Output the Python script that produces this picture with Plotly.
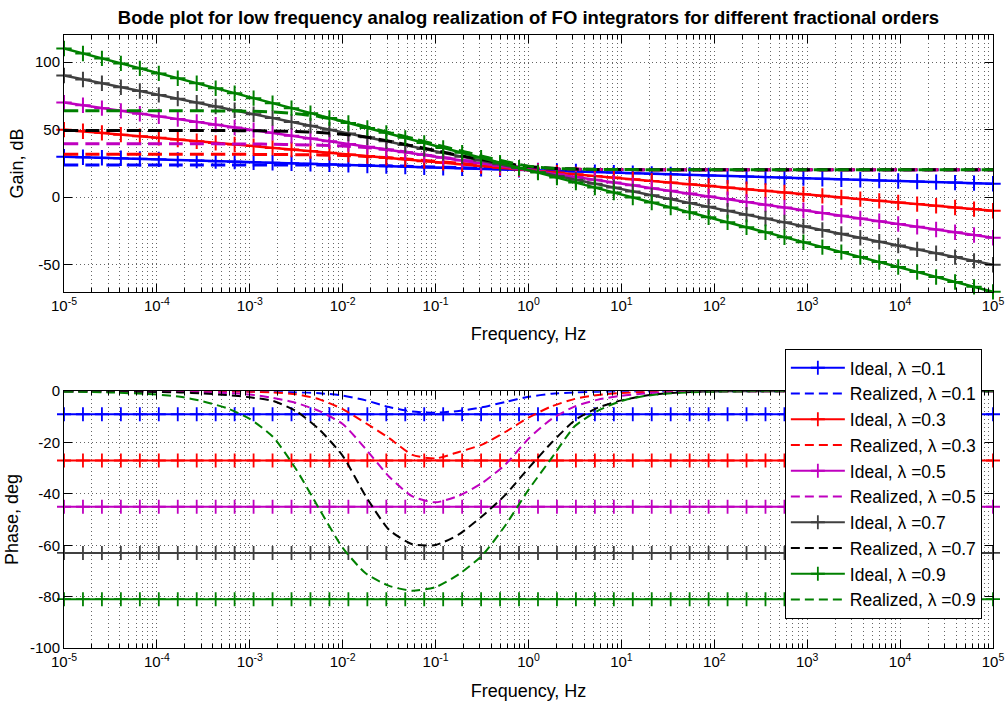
import numpy as np
import plotly.graph_objects as go

# ---------------- data ----------------
LAMBDAS = ["0.1", "0.3", "0.5", "0.7", "0.9"]
IDEAL_COLORS = ["#0000FF", "#FF0000", "#BF00BF", "#404040", "#008000"]
REAL_COLORS = ["#0000FF", "#FF0000", "#BF00BF", "#000000", "#008000"]

# ideal responses sampled on 50 log-spaced frequencies (1e-5 .. 1e5 Hz)
FREQ_IDEAL = np.logspace(-5, 5, 50)

IDEAL_GAIN_01 = [30.0, 29.6, 29.2, 28.8, 28.4, 28.0, 27.6, 27.1, 26.7, 26.3,
                 25.9, 25.5, 25.1, 24.7, 24.3, 23.9, 23.5, 23.1, 22.7, 22.2,
                 21.8, 21.4, 21.0, 20.6, 20.2, 19.8, 19.4, 19.0, 18.6, 18.2,
                 17.8, 17.3, 16.9, 16.5, 16.1, 15.7, 15.3, 14.9, 14.5, 14.1,
                 13.7, 13.3, 12.9, 12.4, 12.0, 11.6, 11.2, 10.8, 10.4, 10.0]
IDEAL_GAIN_03 = [50.0, 48.8, 47.6, 46.3, 45.1, 43.9, 42.7, 41.4, 40.2, 39.0,
                 37.8, 36.5, 35.3, 34.1, 32.9, 31.6, 30.4, 29.2, 28.0, 26.7,
                 25.5, 24.3, 23.1, 21.8, 20.6, 19.4, 18.2, 16.9, 15.7, 14.5,
                 13.3, 12.0, 10.8, 9.6, 8.4, 7.1, 5.9, 4.7, 3.5, 2.2,
                 1.0, -0.2, -1.4, -2.7, -3.9, -5.1, -6.3, -7.6, -8.8, -10.0]
IDEAL_GAIN_05 = [70.0, 68.0, 65.9, 63.9, 61.8, 59.8, 57.8, 55.7, 53.7, 51.6,
                 49.6, 47.6, 45.5, 43.5, 41.4, 39.4, 37.3, 35.3, 33.3, 31.2,
                 29.2, 27.1, 25.1, 23.1, 21.0, 19.0, 16.9, 14.9, 12.9, 10.8,
                 8.8, 6.7, 4.7, 2.7, 0.6, -1.4, -3.5, -5.5, -7.6, -9.6,
                 -11.6, -13.7, -15.7, -17.8, -19.8, -21.8, -23.9, -25.9, -28.0, -30.0]
IDEAL_GAIN_07 = [90.0, 87.1, 84.3, 81.4, 78.6, 75.7, 72.9, 70.0, 67.1, 64.3,
                 61.4, 58.6, 55.7, 52.9, 50.0, 47.1, 44.3, 41.4, 38.6, 35.7,
                 32.9, 30.0, 27.1, 24.3, 21.4, 18.6, 15.7, 12.9, 10.0, 7.1,
                 4.3, 1.4, -1.4, -4.3, -7.1, -10.0, -12.9, -15.7, -18.6, -21.4,
                 -24.3, -27.1, -30.0, -32.9, -35.7, -38.6, -41.4, -44.3, -47.1, -50.0]
IDEAL_GAIN_09 = [110.0, 106.3, 102.7, 99.0, 95.3, 91.6, 88.0, 84.3, 80.6, 76.9,
                 73.3, 69.6, 65.9, 62.2, 58.6, 54.9, 51.2, 47.6, 43.9, 40.2,
                 36.5, 32.9, 29.2, 25.5, 21.8, 18.2, 14.5, 10.8, 7.1, 3.5,
                 -0.2, -3.9, -7.6, -11.2, -14.9, -18.6, -22.2, -25.9, -29.6, -33.3,
                 -36.9, -40.6, -44.3, -48.0, -51.6, -55.3, -59.0, -62.7, -66.3, -70.0]
IDEAL_GAINS = [IDEAL_GAIN_01, IDEAL_GAIN_03, IDEAL_GAIN_05, IDEAL_GAIN_07, IDEAL_GAIN_09]

# ideal phase is constant for each order (deg)
IDEAL_PHASE = [-9.0, -27.0, -45.0, -63.0, -81.0]

# realized responses, read on log10(frequency) points
LOGF_REAL = [-5, -4.5, -4, -3.75, -3.5, -3.25, -3, -2.75, -2.5, -2.25,
             -2, -1.75, -1.5, -1.25, -1, -0.75, -0.5, -0.25, 0, 0.25,
             0.5, 0.75, 1, 1.25, 1.5, 1.75, 2, 2.5, 3, 4, 5]

REAL_GAIN_01 = [23.8, 23.8, 23.8, 23.8, 23.8, 23.8, 23.8, 23.8, 23.78, 23.75,
                23.65, 23.5, 23.2, 22.8, 22.3, 21.9, 21.5, 21.1, 20.8, 20.6,
                20.5, 20.45, 20.4, 20.4, 20.4, 20.4, 20.4, 20.4, 20.4, 20.4, 20.4]
REAL_GAIN_03 = [31.7, 31.7, 31.7, 31.7, 31.7, 31.7, 31.7, 31.6, 31.5, 31.3,
                30.9, 30.2, 29.2, 27.9, 26.5, 25.1, 23.8, 22.6, 21.7, 21.0,
                20.7, 20.5, 20.45, 20.4, 20.4, 20.4, 20.4, 20.4, 20.4, 20.4, 20.4]
REAL_GAIN_05 = [39.5, 39.5, 39.5, 39.5, 39.5, 39.45, 39.4, 39.2, 38.9, 38.5,
                37.9, 36.8, 35.1, 32.8, 30.2, 27.7, 25.4, 23.5, 22.1, 21.2,
                20.7, 20.5, 20.45, 20.4, 20.4, 20.4, 20.4, 20.4, 20.4, 20.4, 20.4]
REAL_GAIN_07 = [49.4, 49.4, 49.4, 49.4, 49.4, 49.3, 49.2, 49.0, 48.6, 47.9,
                46.6, 44.5, 41.5, 38.0, 34.5, 31.0, 27.8, 25.0, 22.8, 21.4,
                20.8, 20.55, 20.45, 20.4, 20.4, 20.4, 20.4, 20.4, 20.4, 20.4, 20.4]
REAL_GAIN_09 = [64.0, 64.0, 64.0, 64.0, 63.9, 63.8, 63.6, 63.0, 61.8, 59.6,
                56.3, 52.2, 47.8, 43.4, 39.0, 34.6, 30.4, 26.4, 23.0, 21.4,
                20.8, 20.55, 20.45, 20.4, 20.4, 20.4, 20.4, 20.4, 20.4, 20.4, 20.4]
REAL_GAINS = [REAL_GAIN_01, REAL_GAIN_03, REAL_GAIN_05, REAL_GAIN_07, REAL_GAIN_09]

REAL_PHASE_01 = [0, 0, 0, 0, 0, -0.05, -0.1, -0.2, -0.4, -0.8,
                 -1.7, -3.6, -6.2, -7.9, -8.4, -7.7, -6.3, -4.2, -2.2, -1.0,
                 -0.45, -0.2, -0.1, -0.05, 0, 0, 0, 0, 0, 0, 0]
REAL_PHASE_03 = [0, 0, 0, 0, -0.05, -0.1, -0.2, -0.5, -1.2, -3.2,
                 -7.0, -12.5, -18.3, -24.8, -26.2, -23.7, -20.8, -15.9, -10.3, -5.9,
                 -3.0, -1.5, -0.7, -0.3, -0.15, -0.05, 0, 0, 0, 0, 0]
REAL_PHASE_05 = [0, 0, -0.1, -0.2, -0.4, -0.7, -1.3, -2.6, -4.6, -7.8,
                 -12.8, -22.6, -33.3, -41.0, -43.3, -40.7, -35.8, -28.6, -18.5, -10.8,
                 -5.9, -3.3, -1.8, -0.9, -0.4, -0.2, -0.1, 0, 0, 0, 0]
REAL_PHASE_07 = [0, -0.1, -0.3, -0.5, -0.9, -1.5, -2.4, -3.8, -7.8, -15.0,
                 -25.2, -41.0, -54.0, -59.6, -59.9, -55.8, -48.7, -40.4, -30.0, -20.0,
                 -11.3, -6.4, -3.6, -1.8, -0.8, -0.3, -0.1, 0, 0, 0, 0]
REAL_PHASE_09 = [-0.2, -0.5, -1.3, -2.2, -4.0, -6.6, -10.8, -17.8, -30.5, -46.0,
                 -61.0, -71.0, -75.8, -77.7, -76.3, -71.3, -64.0, -52.3, -38.4, -26.0,
                 -13.6, -7.6, -3.8, -1.9, -0.9, -0.4, -0.2, -0.05, 0, 0, 0]
REAL_PHASES = [REAL_PHASE_01, REAL_PHASE_03, REAL_PHASE_05, REAL_PHASE_07, REAL_PHASE_09]

X_TICK_VALS = [1e-5, 1e-4, 1e-3, 1e-2, 1e-1, 1e0, 1e1, 1e2, 1e3, 1e4, 1e5]
X_TICK_TEXT = ["10<sup>-5</sup>", "10<sup>-4</sup>", "10<sup>-3</sup>", "10<sup>-2</sup>",
               "10<sup>-1</sup>", "10<sup>0</sup>", "10<sup>1</sup>", "10<sup>2</sup>",
               "10<sup>3</sup>", "10<sup>4</sup>", "10<sup>5</sup>"]
GAIN_TICKS = [-50, 0, 50, 100]
GAIN_TICK_TEXT = ["-50", "0", "50", "100"]
PHASE_TICKS = [-100, -80, -60, -40, -20, 0]
PHASE_TICK_TEXT = ["-100", "-80", "-60", "-40", "-20", "0"]

TITLE = "Bode plot for low frequency analog realization of FO integrators for different fractional orders"

# ---------------- figure ----------------
FONT = "Liberation Sans, Arial, Helvetica, sans-serif"
GRID = "rgba(0,0,0,0.6)"
GRIDDASH = "1px,3px"

freq_real = [10.0 ** v for v in LOGF_REAL]
minor_vals = [k * 10.0 ** e for e in range(-5, 5) for k in range(2, 10)]

fig = go.Figure()

for i, lam in enumerate(LAMBDAS):
    ideal_name = "Ideal, \u03bb =" + lam
    real_name = "Realized, \u03bb =" + lam
    # gain (top)
    fig.add_trace(go.Scatter(
        x=FREQ_IDEAL, y=IDEAL_GAINS[i], mode="lines+markers", name=ideal_name,
        legendgroup="ideal" + lam, showlegend=False, xaxis="x", yaxis="y",
        line=dict(color=IDEAL_COLORS[i], width=2.5),
        marker=dict(symbol="cross-thin", size=11, line=dict(color=IDEAL_COLORS[i], width=2)),
        cliponaxis=False))
    fig.add_trace(go.Scatter(
        x=freq_real, y=REAL_GAINS[i], mode="lines", name=real_name,
        legendgroup="real" + lam, showlegend=False, xaxis="x", yaxis="y",
        line=dict(color=REAL_COLORS[i], width=3, dash="14px,7px", shape="spline", smoothing=0.6)))

for i, lam in enumerate(LAMBDAS):
    ideal_name = "Ideal, \u03bb =" + lam
    real_name = "Realized, \u03bb =" + lam
    fig.add_trace(go.Scatter(
        x=FREQ_IDEAL, y=[IDEAL_PHASE[i]] * len(FREQ_IDEAL), mode="lines+markers",
        name=ideal_name, legendgroup="ideal" + lam, showlegend=True,
        xaxis="x2", yaxis="y2",
        line=dict(color=IDEAL_COLORS[i], width=2),
        marker=dict(symbol="cross-thin", size=10, line=dict(color=IDEAL_COLORS[i], width=1.8)),
        cliponaxis=False))
    fig.add_trace(go.Scatter(
        x=freq_real, y=REAL_PHASES[i], mode="lines", name=real_name,
        legendgroup="real" + lam, showlegend=True, xaxis="x2", yaxis="y2",
        line=dict(color=REAL_COLORS[i], width=2, dash="9px,5px", shape="spline", smoothing=0.6)))


def xaxis_cfg(anchor, standoff):
    return dict(
        type="log", range=[-5, 5], anchor=anchor, automargin=False,
        tickmode="array", tickvals=X_TICK_VALS, ticktext=X_TICK_TEXT,
        ticks="inside", ticklen=8, tickcolor="black", tickwidth=1,
        showline=True, linecolor="black", linewidth=1, mirror="allticks",
        showgrid=True, gridcolor=GRID, griddash=GRIDDASH, gridwidth=1,
        zeroline=False,
        minor=dict(tickmode="array", tickvals=minor_vals, ticks="inside", ticklen=4,
                   tickcolor="black", showgrid=True, gridcolor=GRID,
                   griddash=GRIDDASH, gridwidth=1),
        tickfont=dict(family=FONT, size=15, color="black"),
        title=dict(text="Frequency, Hz", font=dict(family=FONT, size=18, color="black"),
                   standoff=standoff),
    )


def yaxis_cfg(anchor, domain, rng, ticks, ticktext, title):
    return dict(
        domain=domain, anchor=anchor, range=rng, automargin=False,
        tickmode="array", tickvals=ticks, ticktext=ticktext,
        ticks="inside", ticklen=8, tickcolor="black",
        showline=True, linecolor="black", linewidth=1, mirror="allticks",
        showgrid=True, gridcolor=GRID, griddash=GRIDDASH, gridwidth=1,
        zeroline=False,
        tickfont=dict(family=FONT, size=15, color="black"),
        title=dict(text=title, font=dict(family=FONT, size=18, color="black"), standoff=6),
    )


fig.update_layout(
    width=1005, height=705,
    margin=dict(l=64, r=12, t=35, b=57),
    paper_bgcolor="white", plot_bgcolor="white",
    font=dict(family=FONT, color="black"),
    title=dict(text="<b>" + TITLE + "</b>", x=0.5, xref="paper", xanchor="center",
               y=1 - 18 / 705, yref="container", yanchor="middle",
               font=dict(family=FONT, size=18.5, color="black")),
    xaxis=xaxis_cfg("y", 14),
    xaxis2=xaxis_cfg("y2", 15),
    yaxis=yaxis_cfg("x", [0.581, 1.0], [-70, 120], GAIN_TICKS, GAIN_TICK_TEXT, "Gain, dB"),
    yaxis2=yaxis_cfg("x2", [0.0, 0.419], [-100, 0], PHASE_TICKS, PHASE_TICK_TEXT, "Phase, deg"),
    legend=dict(x=0.988, xanchor="right", y=0.488, yanchor="top",
                bgcolor="white", bordercolor="black", borderwidth=1,
                font=dict(family=FONT, size=17.5, color="black"),
                tracegroupgap=0, itemwidth=54),
    showlegend=True,
)

fig.write_html("out.html")
